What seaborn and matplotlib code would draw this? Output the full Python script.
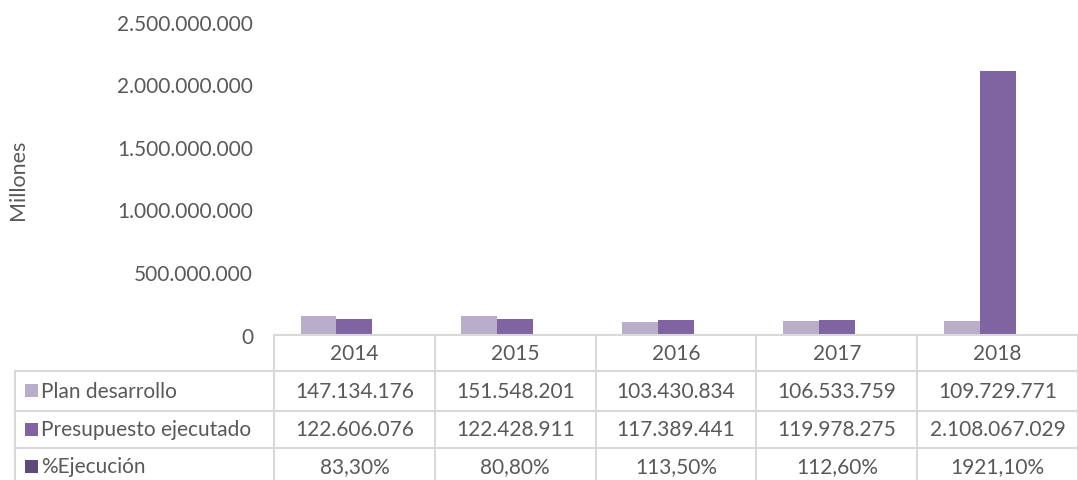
import numpy as np
import pandas as pd
import matplotlib
matplotlib.use('Agg')
import matplotlib.pyplot as plt
import seaborn as sns
from matplotlib.lines import Line2D
from matplotlib.patches import Rectangle
from matplotlib.ticker import FuncFormatter

years = ['2014', '2015', '2016', '2017', '2018']
series = ['Plan desarrollo', 'Presupuesto ejecutado', '%Ejecución']
plan = [147134176, 151548201, 103430834, 106533759, 109729771]
ejecutado = [122606076, 122428911, 117389441, 119978275, 2108067029]
pct = [83.30, 80.80, 113.50, 112.60, 1921.10]
colors = ['#b9adca', '#8064a2', '#5f4a7b']

# long format for seaborn; the % series is plotted as a fraction (invisible at this scale)
df = pd.DataFrame({
    'anio': years * 3,
    'serie': [series[0]] * 5 + [series[1]] * 5 + [series[2]] * 5,
    'valor': plan + ejecutado + [p / 100 for p in pct],
})

sns.set_style('white')
plt.rcParams['font.family'] = ['Lato', 'DejaVu Sans']
txt = '#595959'
grid = '#d9d9d9'

W, H = 1078, 481
fig = plt.figure(figsize=(W / 100, H / 100), dpi=100)
x0, x1, ytop, y0 = 274, 1078, 23, 335.5
ax = fig.add_axes([x0 / W, (H - y0) / H, (x1 - x0) / W, (y0 - ytop) / H])

sns.barplot(data=df, x='anio', y='valor', hue='serie', palette=colors,
            width=0.67, saturation=1, linewidth=0, legend=False, ax=ax)
ax.set_ylim(0, 2500000000)
ax.set_xlim(-0.5, 4.5)
ax.set_yticks(np.arange(0, 2500000001, 500000000))
ax.yaxis.set_major_formatter(FuncFormatter(lambda v, p: f'{int(v):,}'.replace(',', '.')))
ax.tick_params(axis='y', labelsize=15, labelcolor=txt, length=0, pad=15)
ax.set_xticks([])
ax.set_xlabel('')
ax.set_ylabel('')
for s in ax.spines.values():
    s.set_visible(False)

fig.text(18 / W, 1 - 180 / H, 'Millones', rotation=90, ha='center', va='center',
         fontsize=15.5, color=txt)

# data table drawn in pixel coords under the axes
ov = fig.add_axes([0, 0, 1, 1], facecolor='none')
ov.set_xlim(0, W)
ov.set_ylim(H, 0)
ov.axis('off')

edges = [x0 + (x1 - x0) * i / len(years) for i in range(len(years) + 1)]
rows = [y0, 372, 411.5, 449, 487]
left = 15

ov.add_line(Line2D([x0, W], [rows[0], rows[0]], color=grid, lw=1.5))
for r in rows[1:]:
    ov.add_line(Line2D([left, W], [r, r], color=grid, lw=1.5))
ov.add_line(Line2D([left, left], [rows[1], H], color=grid, lw=1.5))
for e in edges:
    ov.add_line(Line2D([e, e], [rows[0], H], color=grid, lw=1.5))

for i, yr in enumerate(years):
    cx = (edges[i] + edges[i + 1]) / 2
    ov.text(cx, (rows[0] + rows[1]) / 2, yr, ha='center', va='center', fontsize=15, color=txt)

cells = [
    [f'{v:,}'.replace(',', '.') for v in plan],
    [f'{v:,}'.replace(',', '.') for v in ejecutado],
    [f'{p:.2f}'.replace('.', ',') + '%' for p in pct],
]
for j, name in enumerate(series):
    cy = (rows[j + 1] + rows[j + 2]) / 2 if j < 2 else (rows[3] + H) / 2 + 2
    ov.add_patch(Rectangle((25, cy - 6.5), 13, 13, color=colors[j], lw=0))
    ov.text(41, cy, name, ha='left', va='center', fontsize=15, color=txt)
    for i in range(len(years)):
        cx = (edges[i] + edges[i + 1]) / 2
        ov.text(cx, cy, cells[j][i], ha='center', va='center', fontsize=15, color=txt)

fig.savefig('out.png', dpi=100)
